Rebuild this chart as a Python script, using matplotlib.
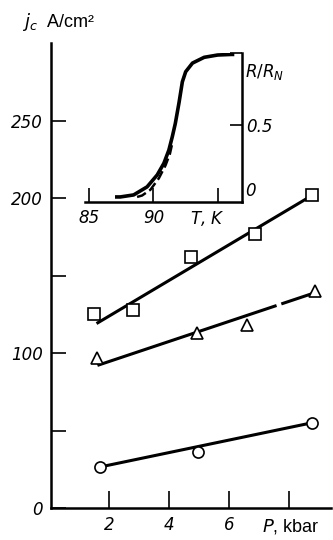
import matplotlib
matplotlib.use('Agg')
import matplotlib.pyplot as plt

plt.rcParams['lines.scale_dashes'] = False

# main panel: j_c vs pressure
p_sq = [1.47, 2.8, 4.73, 6.87, 8.77]
j_sq = [125, 127.6, 161.7, 177, 201.7]
p_tri = [1.6, 4.93, 6.6, 8.87]
j_tri = [96.6, 113, 118, 140]
p_circ = [1.67, 4.97, 8.77]
j_circ = [26.4, 36, 54.8]

# straight fits drawn through the points
fit_sq_p, fit_sq_j = [1.57, 8.77], [119, 201.7]
fit_tri_p, fit_tri_j = [1.6, 8.8], [92, 138.5]
fit_circ_p, fit_circ_j = [1.67, 8.77], [26.4, 55]

x_ticks = [2, 4, 6, 8]
x_labels = ['2', '4', '6', '']
y_ticks = [0, 50, 100, 150, 200, 250]
y_labels = ['0', '', '100', '', '200', '250']

# inset: resistive transition
t_solid = [87.0, 87.41, 88.45, 89.5, 90.29, 90.81, 91.2, 91.47, 91.7, 91.99,
           92.25, 92.51, 93.04, 93.95, 95.0, 96.04, 96.3]
r_solid = [0.0, 0.0, 0.014, 0.07, 0.153, 0.234, 0.326, 0.42, 0.51, 0.655,
           0.80, 0.87, 0.93, 0.97, 0.986, 0.99, 0.99]
t_dash = [88.72, 89.11, 89.76, 90.42, 90.94, 91.28, 91.47]
r_dash = [0.0, 0.01, 0.05, 0.13, 0.22, 0.30, 0.375]

num_font = dict(family='DejaVu Sans', style='italic', size=12)

fig = plt.figure(figsize=(3.33, 5.4), dpi=100)
ax = fig.add_axes([51/333, 32/540, 280/333, 465/540])

lw = 2.2
ax.plot(fit_sq_p, fit_sq_j, color='black', lw=lw, solid_capstyle='butt')
ax.plot(fit_tri_p, fit_tri_j, color='black', lw=lw, dashes=(136, 3.6, 100, 1))
ax.plot(fit_circ_p, fit_circ_j, color='black', lw=lw, solid_capstyle='butt')
ax.plot(p_sq, j_sq, 's', ms=8, mfc='white', mec='black', mew=1.2, zorder=3)
ax.plot(p_tri, j_tri, '^', ms=9, mfc='white', mec='black', mew=1.2, zorder=3)
ax.plot(p_circ, j_circ, 'o', ms=8, mfc='white', mec='black', mew=1.2, zorder=3)

ax.set_xlim(0.05, 9.4)
ax.set_ylim(0, 300)
for s in ['top', 'right']:
    ax.spines[s].set_visible(False)
for s in ['left', 'bottom']:
    ax.spines[s].set_linewidth(1.8)
ax.set_xticks(x_ticks)
ax.set_xticklabels(x_labels, fontdict=num_font)
ax.set_yticks(y_ticks)
ax.set_yticklabels(y_labels, fontdict=num_font)
ax.tick_params(axis='x', direction='in', length=12, width=1.2, pad=6)
ax.tick_params(axis='y', direction='in', length=11, width=1.2, pad=6)

fig.text(262/333, 1 - 527/540, '$P$, kbar', fontsize=13, family='Liberation Sans',
         va='center', ha='left')
fig.text(22/333, 1 - 22/540, '$j_c$  A/cm²', fontsize=13, family='Liberation Sans',
         va='center', ha='left')

# inset
ax2 = fig.add_axes([85/333, (540-201.7)/540, 157/333, 148.7/540])
ax2.patch.set_alpha(0)
ax2.plot(t_solid, r_solid, color='black', lw=2.6, solid_capstyle='butt')
ax2.plot(t_dash, r_dash, color='black', lw=1.8, dashes=(7, 3))
ax2.set_xlim(84.66, 96.9)
ax2.set_ylim(-0.033, 1.0)
for s in ['top', 'left']:
    ax2.spines[s].set_visible(False)
for s in ['bottom', 'right']:
    ax2.spines[s].set_linewidth(1.8)
ax2.set_xticks([85, 90, 95])
ax2.set_xticklabels(['85', '90', ''], fontdict=num_font)
ax2.tick_params(axis='x', direction='in', length=10, width=1.2, pad=5)
ax2.yaxis.tick_right()
ax2.set_yticks([0.5, 1.0])
ax2.set_yticklabels(['0.5', ''], fontdict=num_font)
ax2.tick_params(axis='y', direction='in', length=9, width=1.2, pad=3)
ax2.text(1.02, 0.07, '0', transform=ax2.transAxes, ha='left', va='center', **num_font)
ax2.text(1.02, 0.87, '$R/R_N$', transform=ax2.transAxes, ha='left', va='center',
         fontsize=12)
ax2.text(0.78, -0.11, '$T$, K', transform=ax2.transAxes, ha='center', va='center',
         fontsize=12, family='DejaVu Sans', style='italic')

fig.savefig('out.png', dpi=100)
